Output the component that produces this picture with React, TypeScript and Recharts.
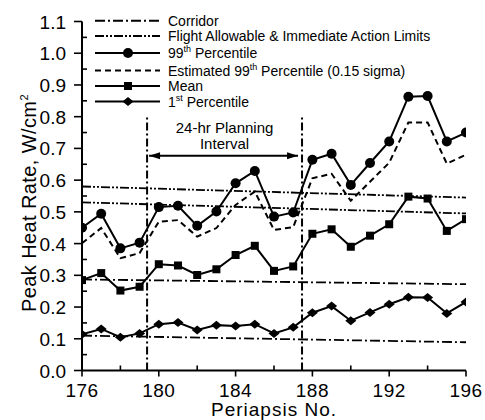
import { ComposedChart, Line, ReferenceLine, XAxis, YAxis } from 'recharts'

// periapsis passes and heat-rate statistics, W/cm^2
const periapsis = [176, 177, 178, 179, 180, 181, 182, 183, 184, 185, 186, 187, 188, 189, 190, 191, 192, 193, 194, 195, 196]
const pct99 = [0.45, 0.494, 0.385, 0.403, 0.515, 0.519, 0.456, 0.501, 0.59, 0.629, 0.485, 0.498, 0.664, 0.683, 0.585, 0.654, 0.722, 0.863, 0.865, 0.722, 0.75]
const est99 = [0.401, 0.449, 0.354, 0.37, 0.469, 0.474, 0.422, 0.449, 0.522, 0.564, 0.443, 0.452, 0.606, 0.62, 0.535, 0.595, 0.655, 0.782, 0.782, 0.652, 0.68]
const mean = [0.285, 0.307, 0.252, 0.264, 0.335, 0.331, 0.301, 0.319, 0.364, 0.393, 0.314, 0.328, 0.431, 0.445, 0.39, 0.425, 0.461, 0.548, 0.542, 0.44, 0.477]
const pct1 = [0.114, 0.131, 0.105, 0.117, 0.146, 0.151, 0.128, 0.143, 0.14, 0.146, 0.117, 0.136, 0.182, 0.203, 0.157, 0.183, 0.209, 0.231, 0.23, 0.18, 0.216]

// limit lines, start and end of the window
const limitX = [176, 196]
const flightHigh = [0.58, 0.545]
const flightLow = [0.53, 0.495]
const corridorHigh = [0.287, 0.272]
const corridorLow = [0.11, 0.089]

const planStart = 179.39
const planEnd = 187.46
const planTop = 0.8
const arrowY = 0.677

const xTicks = [176, 178, 180, 182, 184, 186, 188, 190, 192, 194, 196]
const yTicks = [0, 0.05, 0.1, 0.15, 0.2, 0.25, 0.3, 0.35, 0.4, 0.45, 0.5, 0.55, 0.6, 0.65, 0.7, 0.75, 0.8, 0.85, 0.9, 0.95, 1.0, 1.05, 1.1]

const rows = periapsis.map((p, i) => ({ p, pct99: pct99[i], est99: est99[i], mean: mean[i], pct1: pct1[i] }))
const seg = (ys: number[]) => limitX.map((x, i) => ({ p: x, v: ys[i] }))

const FONT = '"Liberation Sans", Arial, sans-serif'
const AX = 82
const AY = 370.5

function YTick({ y, payload }: any) {
  const v = payload.value
  const major = Math.abs(v * 10 - Math.round(v * 10)) < 1e-6
  if (!major) return <line x1={AX} x2={AX + 5} y1={y} y2={y} stroke="#000" strokeWidth={1.6} />
  return (
    <g>
      <line x1={AX - 8} x2={AX} y1={y} y2={y} stroke="#000" strokeWidth={1.6} />
      <text x={AX - 16} y={y + 7} textAnchor="end" fontSize={19} fontFamily={FONT} fill="#000">
        {v.toFixed(1)}
      </text>
    </g>
  )
}

function XTick({ x, payload }: any) {
  const v = payload.value
  const major = (v - 176) % 4 === 0
  if (!major) return <line x1={x} x2={x} y1={AY} y2={AY - 5} stroke="#000" strokeWidth={1.6} />
  return (
    <g>
      <line x1={x} x2={x} y1={AY} y2={AY + 6} stroke="#000" strokeWidth={1.6} />
      <text x={x} y={AY + 26} textAnchor="middle" fontSize={19} letterSpacing={0.5} fontFamily={FONT} fill="#000">
        {v}
      </text>
    </g>
  )
}

const Circle = ({ cx, cy }: any) => <circle cx={cx} cy={cy} r={5} fill="#000" />
const Square = ({ cx, cy }: any) => <rect x={cx - 4} y={cy - 4} width={8} height={8} fill="#000" />
const Diamond = ({ cx, cy }: any) => (
  <polygon points={`${cx - 5.5},${cy} ${cx},${cy - 4.5} ${cx + 5.5},${cy} ${cx},${cy + 4.5}`} fill="#000" />
)

function PlanArrow({ x1, x2, y1 }: any) {
  const a = x1 + 2
  const b = x2 - 4
  const mid = (x1 + x2) / 2
  return (
    <g>
      <line x1={a} x2={b} y1={y1} y2={y1} stroke="#000" strokeWidth={2} />
      <polygon points={`${a},${y1} ${a + 11},${y1 - 3.5} ${a + 11},${y1 + 3.5}`} fill="#000" />
      <polygon points={`${b},${y1} ${b - 11},${y1 - 3.5} ${b - 11},${y1 + 3.5}`} fill="#000" />
      <text x={mid} y={y1 - 23} textAnchor="middle" fontSize={15} fontFamily={FONT} fill="#000">
        24-hr Planning
      </text>
      <text x={mid} y={y1 - 7} textAnchor="middle" fontSize={15} fontFamily={FONT} fill="#000">
        Interval
      </text>
    </g>
  )
}

const legendRows = [
  { y: 20.7, dash: '10 3 2 3', mark: null, label: <>Corridor</> },
  { y: 36, dash: '9 2 2 2 2 2', mark: null, label: <>Flight Allowable &amp; Immediate Action Limits</> },
  { y: 53, dash: undefined, mark: 'circle', label: <>99<tspan dy={-6} fontSize={9}>th</tspan><tspan dy={6}> Percentile</tspan></> },
  { y: 70.5, dash: '6 4', mark: null, label: <>Estimated 99<tspan dy={-6} fontSize={9}>th</tspan><tspan dy={6}> Percentile (0.15 sigma)</tspan></> },
  { y: 86, dash: undefined, mark: 'square', label: <>Mean</> },
  { y: 101.5, dash: undefined, mark: 'diamond', label: <>1<tspan dy={-6} fontSize={9}>st</tspan><tspan dy={6}> Percentile</tspan></> },
]

function LegendBox() {
  return (
    <g>
      {legendRows.map((r, i) => (
        <g key={i}>
          <line x1={95} x2={160} y1={r.y} y2={r.y} stroke="#000" strokeWidth={2} strokeDasharray={r.dash} />
          {r.mark === 'circle' && <Circle cx={128} cy={r.y} />}
          {r.mark === 'square' && <Square cx={128} cy={r.y} />}
          {r.mark === 'diamond' && <Diamond cx={128} cy={r.y} />}
          <text x={168} y={r.y + 5} fontSize={14} fontFamily={FONT} fill="#000">
            {r.label}
          </text>
        </g>
      ))}
    </g>
  )
}

export default function App() {
  return (
    <div style={{ position: 'absolute', left: 0, top: 0, background: '#fff' }}>
      <ComposedChart width={485} height={420} data={rows} margin={{ top: 21.5, right: 19, bottom: 0, left: 0 }}>
        <XAxis
          dataKey="p"
          type="number"
          domain={[176, 196]}
          ticks={xTicks}
          interval={0}
          height={49.5}
          tickSize={0}
          tickMargin={0}
          tickLine={false}
          axisLine={{ stroke: '#000', strokeWidth: 2 }}
          tick={<XTick />}
          allowDataOverflow
        />
        <YAxis
          type="number"
          domain={[0, 1.1]}
          ticks={yTicks}
          interval={0}
          width={82}
          tickSize={0}
          tickMargin={0}
          tickLine={false}
          axisLine={{ stroke: '#000', strokeWidth: 2 }}
          tick={<YTick />}
          allowDataOverflow
        />
        <Line data={seg(corridorHigh)} dataKey="v" stroke="#000" strokeWidth={1.8} strokeDasharray="10 3 2 3" dot={false} isAnimationActive={false} />
        <Line data={seg(corridorLow)} dataKey="v" stroke="#000" strokeWidth={1.8} strokeDasharray="10 3 2 3" dot={false} isAnimationActive={false} />
        <Line data={seg(flightHigh)} dataKey="v" stroke="#000" strokeWidth={1.8} strokeDasharray="9 2 2 2 2 2" dot={false} isAnimationActive={false} />
        <Line data={seg(flightLow)} dataKey="v" stroke="#000" strokeWidth={1.8} strokeDasharray="9 2 2 2 2 2" dot={false} isAnimationActive={false} />
        <ReferenceLine segment={[{ x: planStart, y: 0 }, { x: planStart, y: planTop }]} stroke="#000" strokeWidth={2} strokeDasharray="8 3 2 3" />
        <ReferenceLine segment={[{ x: planEnd, y: 0 }, { x: planEnd, y: planTop }]} stroke="#000" strokeWidth={2} strokeDasharray="8 3 2 3" />
        <ReferenceLine segment={[{ x: planStart, y: arrowY }, { x: planEnd, y: arrowY }]} shape={<PlanArrow />} />
        <Line dataKey="est99" stroke="#000" strokeWidth={2} strokeDasharray="6 4" dot={false} isAnimationActive={false} />
        <Line dataKey="pct99" stroke="#000" strokeWidth={2} dot={<Circle />} isAnimationActive={false} />
        <Line dataKey="mean" stroke="#000" strokeWidth={2} dot={<Square />} isAnimationActive={false} />
        <Line dataKey="pct1" stroke="#000" strokeWidth={2} dot={<Diamond />} isAnimationActive={false} />
        <LegendBox />
        <text x={274} y={415.5} textAnchor="middle" fontSize={19} letterSpacing={1} fontFamily={FONT} fill="#000">
          Periapsis No.
        </text>
        <text transform="translate(36,203) rotate(-90)" textAnchor="middle" fontSize={20} letterSpacing={0.4} fontFamily={FONT} fill="#000">
          Peak Heat Rate, W/cm<tspan dy={-8} fontSize={11}>2</tspan>
        </text>
      </ComposedChart>
    </div>
  )
}
